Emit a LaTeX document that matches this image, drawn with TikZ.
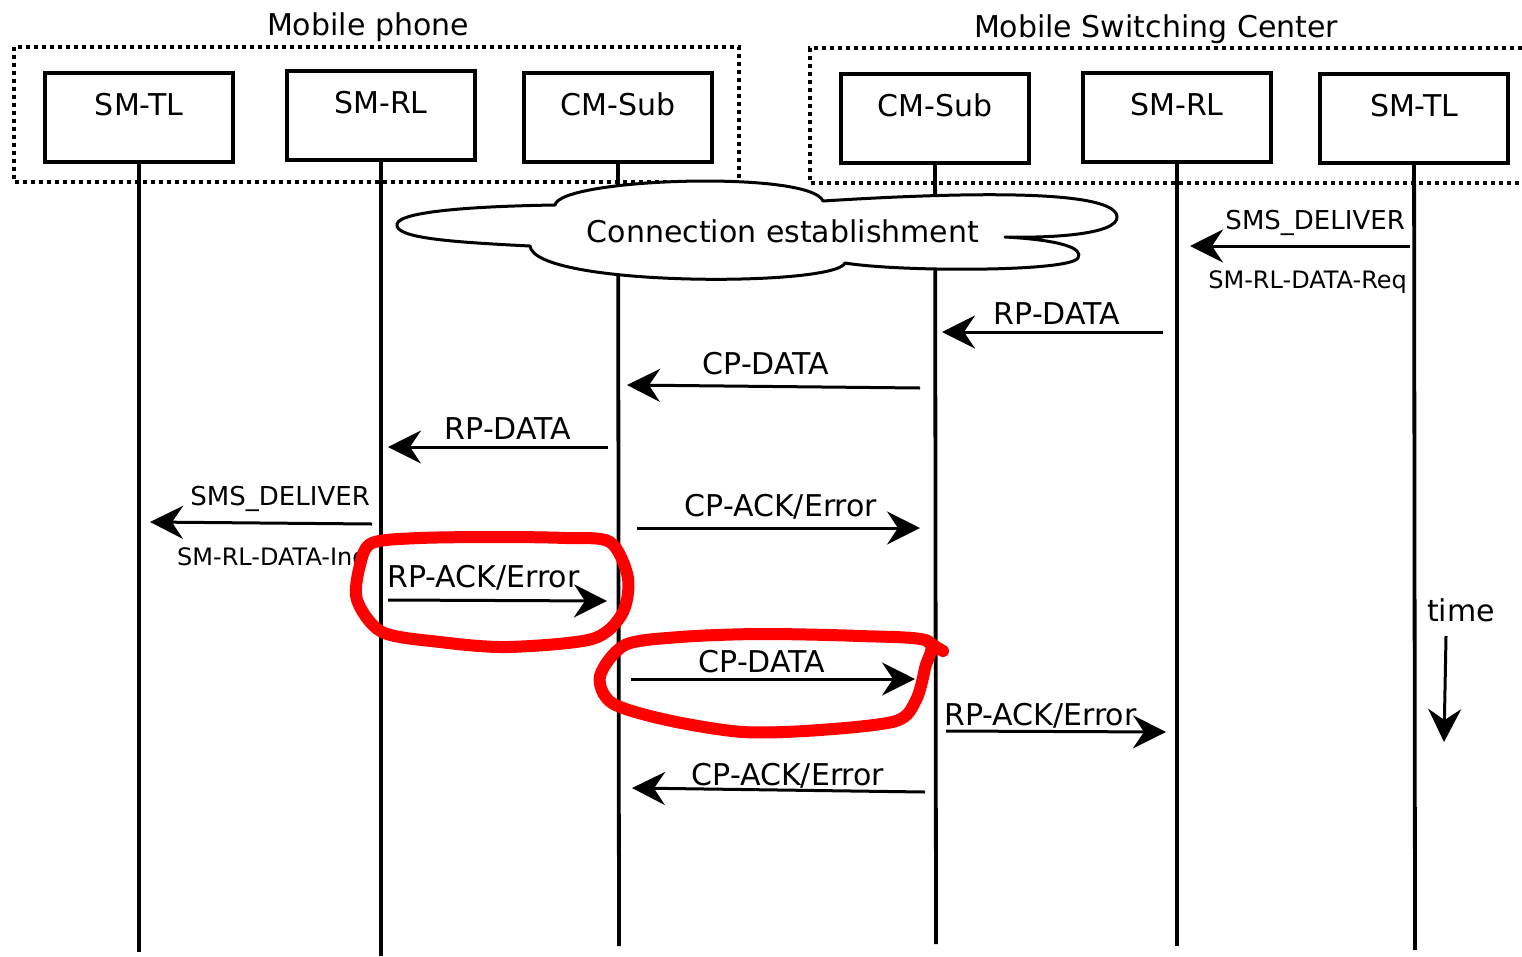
\documentclass[tikz,border=0pt]{standalone}
\usepackage{fontspec}
\setmainfont{DejaVu Sans}
\usetikzlibrary{arrows.meta}
\begin{document}
\begin{tikzpicture}[x=1pt,y=-1pt,
  entity/.style={draw,line width=4pt,minimum width=188pt,inner sep=0pt,
    text height=42pt,text depth=47pt,anchor=north,font=\fontsize{30}{36}\selectfont},
  group/.style={line width=4pt,dash pattern=on 4pt off 4pt},
  life/.style={line width=3.8pt},
  msg/.style={line width=3pt,-{Stealth[length=33pt,width=33pt,inset=11pt]}},
  big/.style={inner sep=0pt,font=\fontsize{30}{36}\selectfont},
  small/.style={inner sep=0pt,font=\fontsize{26}{30}\selectfont},
  tiny/.style={inner sep=0pt,font=\fontsize{24}{28}\selectfont},
  cloudshape/.style={draw,fill=white,line width=3pt,line join=round},
  redmark/.style={draw=red,line width=12pt,line cap=round,line join=round}]
\useasboundingbox (0,0) rectangle (1522,956);

% group titles and dotted frames
\node[big,anchor=base] (tphone) at (368,35) {Mobile phone};
\node[big,anchor=base] (tmsc) at (1156,37) {Mobile Switching Center};
\draw[group] (14,47) rectangle (739,182);
\draw[group] (1522,48) -- (810,48) -- (810,183) -- (1522,183);

% protocol entities
\node[entity] (lTL) at (139,71) {SM-TL};
\node[entity] (lRL) at (381,69) {SM-RL};
\node[entity] (lCM) at (618,71) {CM-Sub};
\node[entity] (rCM) at (935,72) {CM-Sub};
\node[entity] (rRL) at (1177,71) {SM-RL};
\node[entity] (rTL) at (1414,72) {SM-TL};

% lifelines
\coordinate (eLTL) at (139,952);
\coordinate (eLRL) at (381,956);
\coordinate (eLCM) at (619,946);
\coordinate (eRCM) at (936,944);
\coordinate (eRRL) at (1177,946);
\coordinate (eRTL) at (1415,950);
\draw[life] (lTL) -- (eLTL);
\draw[life] (lRL) -- (eLRL);
\draw[life] (lCM) -- (eLCM);
\draw[life] (rCM) -- (eRCM);
\draw[life] (rRL) -- (eRRL);
\draw[life] (rTL) -- (eRTL);

% connection establishment cloud
\draw[cloudshape] (397,224) .. controls (400,210) and (490,206) .. (555,205)
  .. controls (560,178) and (810,170) .. (823,201)
  .. controls (950,193) and (1112,188) .. (1117,216)
  .. controls (1120,236) and (1040,238) .. (1005,237)
  .. controls (1060,240) and (1084,248) .. (1078,258)
  .. controls (1070,272) and (900,272) .. (845,263)
  .. controls (835,287) and (535,287) .. (530,246)
  .. controls (450,242) and (394,238) .. (397,224) -- cycle;
\node[big,anchor=base] (conn) at (783,242) {Connection establishment};

% message end points
\coordinate (m1a) at (1410,246); \coordinate (m1b) at (1190,246);
\coordinate (m2a) at (1163,332); \coordinate (m2b) at (942,332);
\coordinate (m3a) at (920,388);  \coordinate (m3b) at (627,385);
\coordinate (m4a) at (608,447);  \coordinate (m4b) at (388,447);
\coordinate (m5a) at (372,524);  \coordinate (m5b) at (150,522);
\coordinate (m6a) at (637,528);  \coordinate (m6b) at (920,528);
\coordinate (m7a) at (388,600);  \coordinate (m7b) at (607,601);
\coordinate (m8a) at (631,679);  \coordinate (m8b) at (915,679);
\coordinate (m9a) at (946,731);  \coordinate (m9b) at (1166,732);
\coordinate (m10a) at (925,792); \coordinate (m10b) at (632,788);
\coordinate (ta) at (1446,636);  \coordinate (tb) at (1444,742);

% messages
\draw[msg] (m1a) -- (m1b);
\draw[msg] (m2a) -- (m2b);
\draw[msg] (m3a) -- (m3b);
\draw[msg] (m4a) -- (m4b);
\draw[msg] (m5a) -- (m5b);
\draw[msg] (m6a) -- (m6b);
\draw[msg] (m7a) -- (m7b);
\draw[msg] (m8a) -- (m8b);
\draw[msg] (m9a) -- (m9b);
\draw[msg] (m10a) -- (m10b);
\draw[msg] (ta) -- (tb);

% message labels
\node[small,anchor=base east] (l1) at (1405,229) {SMS\_DELIVER};
\node[tiny,anchor=base east] (l1b) at (1407,288) {SM-RL-DATA-Req};
\node[big,anchor=base] (l2) at (1057,324) {RP-DATA};
\node[big,anchor=base] (l3) at (766,374) {CP-DATA};
\node[big,anchor=base] (l4) at (508,439) {RP-DATA};
\node[small,anchor=base east] (l5) at (370,505) {SMS\_DELIVER};
\node[tiny,anchor=base west] (l5b) at (177,565) {SM-RL-DATA-Ind};
\node[big,anchor=base] (l6) at (781,516) {CP-ACK/Error};
\node[big,anchor=base west] (l7) at (387,587) {RP-ACK/Error};
\node[big,anchor=base] (l8) at (762,672) {CP-DATA};
\node[big,anchor=base west] (l9) at (944,725) {RP-ACK/Error};
\node[big,anchor=base] (l10) at (788,785) {CP-ACK/Error};
\node[big,anchor=base] (ltime) at (1461,621) {time};

% red hand-drawn highlights
\draw[redmark] plot[smooth cycle] coordinates {(372,543) (420,538) (500,537) (565,538)
  (610,542) (628,578) (622,614) (592,639) (507,647) (440,642) (382,632) (357,600) (360,565)};
\draw[redmark] plot[smooth cycle] coordinates {(928,641) (860,636) (760,634) (680,637)
  (625,645) (600,676) (612,703) (667,720) (743,732) (820,730) (896,721) (916,700) (925,668)};
\draw[redmark] (928,642) -- (943,651);
\end{tikzpicture}
\end{document}
